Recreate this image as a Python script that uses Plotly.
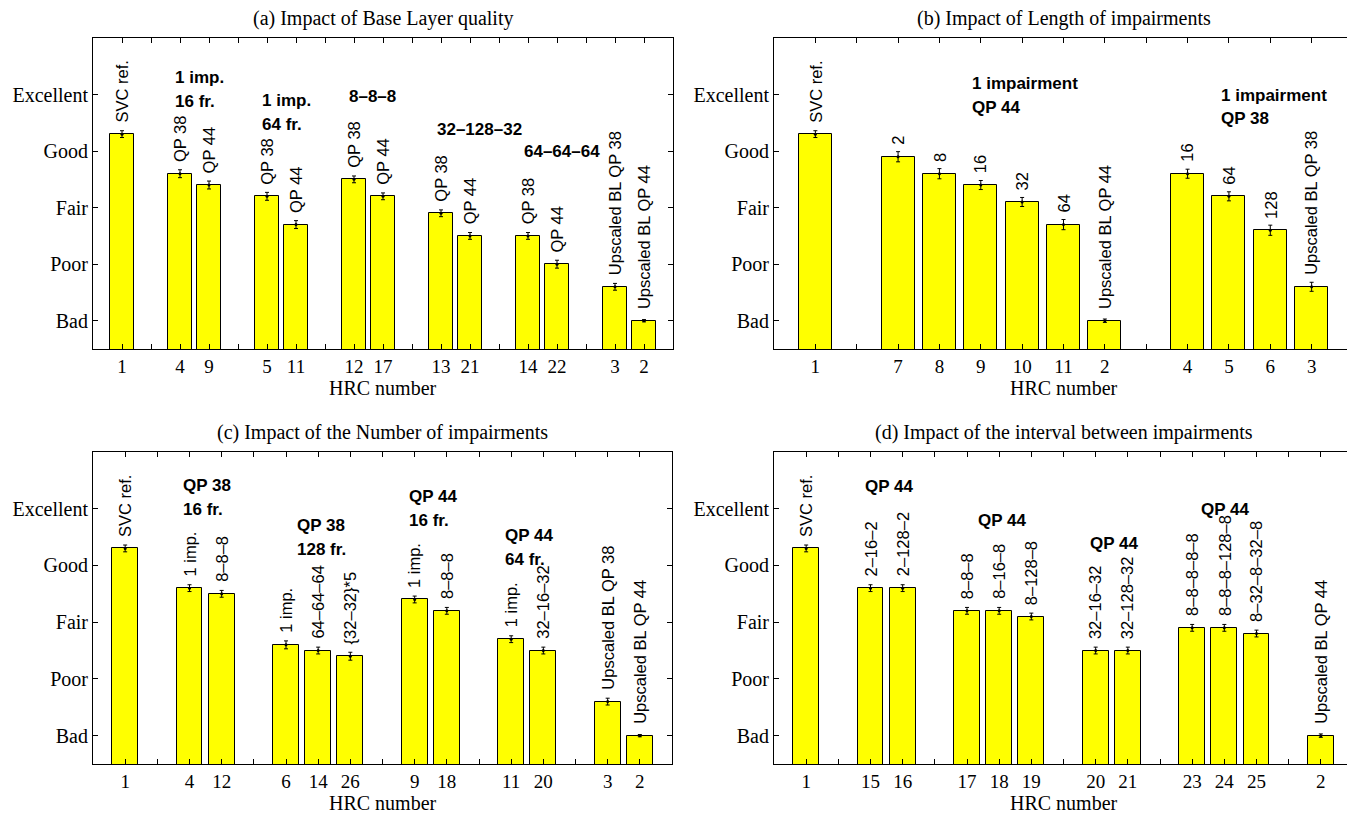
import plotly.graph_objects as go

# ---------------- data ----------------
# (a) Impact of Base Layer quality
a_groups = [["1"], ["4", "9"], ["5", "11"], ["12", "17"], ["13", "21"], ["14", "22"], ["3", "2"]]
a_mos = [4.3, 3.6, 3.4, 3.2, 2.7, 3.5, 3.2, 2.9, 2.5, 2.5, 2.0, 1.6, 1.0]
a_ci = [0.06, 0.07, 0.07, 0.07, 0.07, 0.06, 0.06, 0.06, 0.06, 0.06, 0.07, 0.06, 0.02]
a_labels = ["SVC ref.", "QP 38", "QP 44", "QP 38", "QP 44", "QP 38", "QP 44",
            "QP 38", "QP 44", "QP 38", "QP 44", "Upscaled BL QP 38", "Upscaled BL QP 44"]

# (b) Impact of Length of impairments
b_groups = [["1"], ["7", "8", "9", "10", "11", "2"], ["4", "5", "6", "3"]]
b_mos = [4.3, 3.9, 3.6, 3.4, 3.1, 2.7, 1.0, 3.6, 3.2, 2.6, 1.6]
b_ci = [0.06, 0.09, 0.09, 0.08, 0.08, 0.09, 0.03, 0.08, 0.08, 0.09, 0.08]
b_labels = ["SVC ref.", "2", "8", "16", "32", "64", "Upscaled BL QP 44",
            "16", "64", "128", "Upscaled BL QP 38"]

# (c) Impact of the Number of impairments
c_groups = [["1"], ["4", "12"], ["6", "14", "26"], ["9", "18"], ["11", "20"], ["3", "2"]]
c_mos = [4.3, 3.6, 3.5, 2.6, 2.5, 2.4, 3.4, 3.2, 2.7, 2.5, 1.6, 1.0]
c_ci = [0.06, 0.06, 0.06, 0.07, 0.06, 0.07, 0.06, 0.06, 0.06, 0.06, 0.06, 0.02]
c_labels = ["SVC ref.", "1 imp.", "8–8–8", "1 imp.", "64–64–64", "{32–32}*5",
            "1 imp.", "8–8–8", "1 imp.", "32–16–32", "Upscaled BL QP 38", "Upscaled BL QP 44"]

# (d) Impact of the interval between impairments
d_groups = [["1"], ["15", "16"], ["17", "18", "19"], ["20", "21"], ["23", "24", "25"], ["2"]]
d_mos = [4.3, 3.6, 3.6, 3.2, 3.2, 3.1, 2.5, 2.5, 2.9, 2.9, 2.8, 1.0]
d_ci = [0.06, 0.06, 0.06, 0.06, 0.06, 0.06, 0.06, 0.06, 0.06, 0.06, 0.06, 0.03]
d_labels = ["SVC ref.", "2–16–2", "2–128–2", "8–8–8", "8–16–8", "8–128–8",
            "32–16–32", "32–128–32", "8–8–8–8–8", "8–8–8–128–8", "8–32–8–32–8",
            "Upscaled BL QP 44"]

quality_ticks = ["Bad", "Poor", "Fair", "Good", "Excellent"]
quality_vals = [1, 2, 3, 4, 5]

titles = ["(a) Impact of Base Layer quality", "(b) Impact of Length of impairments",
          "(c) Impact of the Number of impairments", "(d) Impact of the interval between impairments"]

# group notes (bold), placement in data coords: (x, y, [lines])
a_notes = [(2.75, 5.30, ["1 imp.", "16 fr."]), (5.77, 4.89, ["1 imp.", "64 fr."]),
           (8.77, 4.97, ["8–8–8"]), (11.78, 4.39, ["32–128–32"]), (14.79, 3.99, ["64–64–64"])]
b_notes = [(4.74, 5.19, ["1 impairment", "QP 44"]), (10.76, 4.99, ["1 impairment", "QP 38"])]
c_notes = [(2.75, 5.41, ["QP 38", "16 fr."]), (6.27, 4.71, ["QP 38", "128 fr."]),
           (9.75, 5.21, ["QP 44", "16 fr."]), (12.76, 4.52, ["QP 44", "64 fr."])]
d_notes = [(2.76, 5.39, ["QP 44"]), (6.27, 4.79, ["QP 44"]),
           (9.76, 4.39, ["QP 44"]), (13.21, 4.99, ["QP 44"])]

# ---------------- layout geometry ----------------
OFF = 8                      # default page body margin
W, H = 1355 - OFF, 813 - OFF
SERIF = "Liberation Serif"
SANS = "Liberation Sans"

panels = [
    dict(groups=a_groups, mos=a_mos, ci=a_ci, labels=a_labels, notes=a_notes,
         xd=(93, 673), yd=(38, 349)),
    dict(groups=b_groups, mos=b_mos, ci=b_ci, labels=b_labels, notes=b_notes,
         xd=(774, 1353), yd=(38, 349)),
    dict(groups=c_groups, mos=c_mos, ci=c_ci, labels=c_labels, notes=c_notes,
         xd=(93, 672), yd=(452, 764)),
    dict(groups=d_groups, mos=d_mos, ci=d_ci, labels=d_labels, notes=d_notes,
         xd=(774, 1353), yd=(452, 764)),
]


def fx(px):
    return (px - OFF) / W


def fy(py):
    return 1 - (py - OFF) / H


fig = go.Figure()
annotations = []
layout_axes = {}

for i, p in enumerate(panels):
    k = "" if i == 0 else str(i + 1)
    xref, yref = "x" + k, "y" + k

    # compute slot positions: groups separated by one empty slot
    pos, hrc = [], []
    slot = 1
    for g in p["groups"]:
        for h in g:
            pos.append(slot)
            hrc.append(h)
            slot += 1
        slot += 1
    xmax = pos[-1] + 1

    fig.add_trace(go.Bar(
        x=pos, y=p["mos"], width=0.8, base=0,
        marker=dict(color="#FFFF00", line=dict(color="black", width=1)),
        xaxis=xref, yaxis=yref, showlegend=False, hoverinfo="skip"))
    fig.add_trace(go.Scatter(
        x=pos, y=p["mos"], mode="markers",
        marker=dict(color="black", size=3),
        error_y=dict(type="data", array=p["ci"], color="black", thickness=1, width=2),
        xaxis=xref, yaxis=yref, showlegend=False, hoverinfo="skip"))

    tickvals = list(range(1, xmax))
    ticktext = [hrc[pos.index(t)] if t in pos else "" for t in tickvals]

    x0, x1 = p["xd"]
    y0, y1 = p["yd"]
    xa = dict(domain=[fx(x0), fx(x1)], range=[0, xmax], anchor=yref,
              tickvals=tickvals, ticktext=ticktext, ticks="inside", ticklen=5,
              tickcolor="black", showline=True, linecolor="black", linewidth=1,
              mirror="ticks", showgrid=False, zeroline=False,
              tickfont=dict(family=SERIF, size=19, color="black"),
              ticklabelstandoff=0)
    ya = dict(domain=[fy(y1), fy(y0)], range=[0.5, 6], anchor=xref,
              tickvals=quality_vals, ticktext=quality_ticks, ticks="inside", ticklen=5,
              tickcolor="black", showline=True, linecolor="black", linewidth=1,
              mirror="ticks", showgrid=False, zeroline=False,
              tickfont=dict(family=SERIF, size=20, color="black"))
    layout_axes["xaxis" + k] = xa
    layout_axes["yaxis" + k] = ya

    # rotated bar labels
    for xv, yv, e, lab in zip(pos, p["mos"], p["ci"], p["labels"]):
        annotations.append(dict(
            x=xv, y=yv + 0.17, xref=xref, yref=yref, text=lab, showarrow=False,
            textangle=-90, xanchor="center", yanchor="bottom",
            font=dict(family=SANS, size=16.5, color="black")))

    # bold group notes
    for nx, ny, lines in p["notes"]:
        for j, line in enumerate(lines):
            annotations.append(dict(
                x=nx, y=ny - 0.42 * j, xref=xref, yref=yref, text="<b>" + line + "</b>",
                showarrow=False, xanchor="left", yanchor="middle",
                font=dict(family=SANS, size=17, color="black")))

    # title and x-axis title
    cx = fx((x0 + x1) / 2)
    annotations.append(dict(
        x=cx, y=fy(y0 - 20), xref="paper", yref="paper", text=titles[i],
        showarrow=False, xanchor="center", yanchor="middle", borderpad=0,
        font=dict(family=SERIF, size=20, color="black")))
    annotations.append(dict(
        x=cx, y=fy(y1 + 39), xref="paper", yref="paper", text="HRC number",
        showarrow=False, xanchor="center", yanchor="middle",
        font=dict(family=SERIF, size=20, color="black")))

fig.update_layout(
    width=W, height=H, margin=dict(l=0, r=0, t=0, b=0),
    paper_bgcolor="white", plot_bgcolor="white",
    bargap=0, annotations=annotations, showlegend=False,
    **layout_axes)

fig.write_html("out.html")
